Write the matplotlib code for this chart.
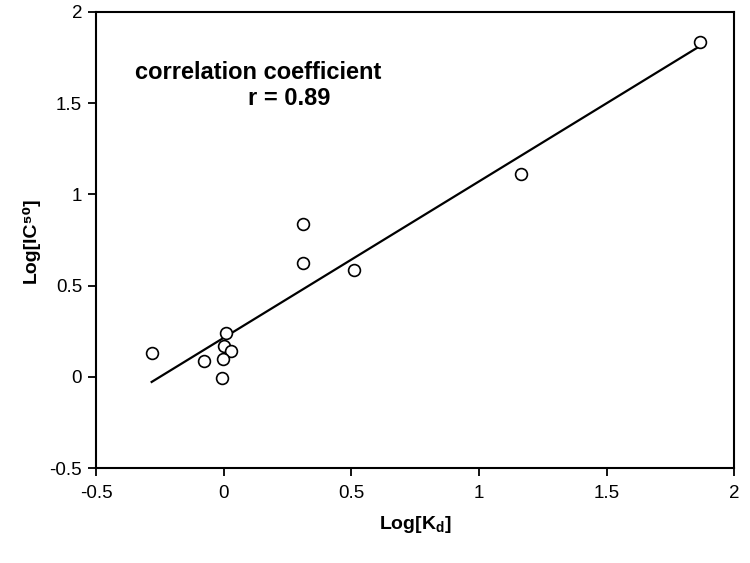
import matplotlib

matplotlib.use("Agg")
import matplotlib.pyplot as plt
import numpy as np

# values
log_kd = [-0.282, -0.076, 0.009, 0.001, 0.030, -0.004, -0.008, 0.309, 0.312, 0.510, 1.166, 1.867]
log_ic50 = [0.132, 0.088, 0.238, 0.169, 0.140, 0.098, -0.008, 0.839, 0.622, 0.587, 1.112, 1.834]
x_ticks = [-0.5, 0, 0.5, 1, 1.5, 2]
y_ticks = [-0.5, 0, 0.5, 1, 1.5, 2]
r_value = 0.89

plt.rcParams.update(
    {
        "font.family": ["Liberation Sans", "DejaVu Sans"],
        "mathtext.fontset": "custom",
        "mathtext.rm": "Liberation Sans:bold",
        "mathtext.it": "Liberation Sans:bold",
        "mathtext.bf": "Liberation Sans:bold",
    }
)

fig = plt.figure(figsize=(7.5, 5.63), dpi=100)
ax = fig.add_axes([0.128, 0.1687, 0.851, 0.81])

x = np.array(log_kd)
y = np.array(log_ic50)
slope, intercept = np.polyfit(x, y, 1)
xs = np.array([x.min(), x.max()])
ax.plot(xs, slope * xs + intercept, color="black", linewidth=1.6, zorder=2)
ax.plot(x, y, "o", markersize=8.5, markerfacecolor="white", markeredgecolor="black",
        markeredgewidth=1.2, zorder=3)

ax.set_xlim(-0.5, 2)
ax.set_ylim(-0.5, 2)
ax.set_xticks(x_ticks, [f"{t:g}" for t in x_ticks])
ax.set_yticks(y_ticks, [f"{t:g}" for t in y_ticks])
ax.tick_params(direction="out", length=6, width=1.3, labelsize=13.5)
ax.tick_params(axis="x", pad=6)
ax.tick_params(axis="y", pad=4)
for spine in ax.spines.values():
    spine.set_linewidth(1.5)

ax.set_xlabel("Log[K$_{\\mathrm{d}}$]", fontsize=14, fontweight="bold", labelpad=9)
ax.set_ylabel("Log[IC\u2075\u2070]", fontsize=14, fontweight="bold", labelpad=7)

ax.text(0.254, 0.853, "correlation coefficient", transform=ax.transAxes, ha="center",
        va="baseline", fontsize=17, fontweight="bold")
ax.text(0.302, 0.796, f"r = {r_value}", transform=ax.transAxes, ha="center",
        va="baseline", fontsize=17, fontweight="bold")

fig.savefig("out.png", dpi=100, facecolor="white")
